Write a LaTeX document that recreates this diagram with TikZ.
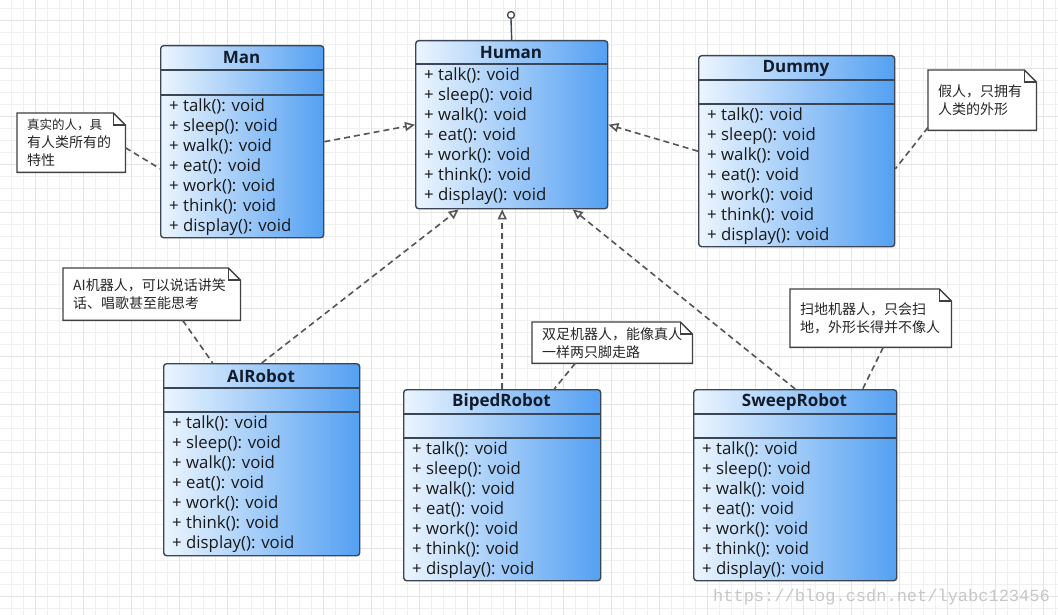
\documentclass[tikz,border=0pt]{standalone}
\usepackage{fontspec}
\setmainfont{Open Sans}
\newfontfamily\cjk{Noto Sans CJK SC}
\newfontfamily\wmfont{Liberation Mono}
\usetikzlibrary{arrows.meta}
\definecolor{boxedge}{RGB}{58,70,86}
\definecolor{boxleft}{RGB}{236,245,254}
\definecolor{boxright}{RGB}{84,160,242}
\definecolor{linegray}{RGB}{85,85,85}
\definecolor{titletext}{RGB}{18,28,44}
\tikzset{
 classbox/.style={draw=boxedge, line width=1.4bp, rounded corners=3bp, left color=boxleft, right color=boxright, inner sep=0pt, anchor=north west},
 sepline/.style={draw=boxedge, line width=1.4bp},
 classtitle/.style={font=\fontsize{17bp}{19bp}\selectfont\bfseries, text=titletext, inner sep=0pt},
 methodtext/.style={font=\fontsize{16.8bp}{20.1bp}\selectfont, align=left, inner sep=0pt, anchor=north west, text=black!90},
 notebox/.style={fill=white, draw=none, inner sep=0pt, anchor=north west},
 noteline/.style={draw=black!75, line width=1.3bp, line join=miter},
 notetext/.style={font=\cjk\fontsize{14bp}{18bp}\selectfont, align=left, inner sep=0pt, anchor=west, text=black!85},
 realize/.style={draw=linegray, line width=1.6bp, dash pattern=on 6bp off 4bp, -{Triangle[open, length=10bp, width=9bp, fill=white]}},
 noteconn/.style={draw=linegray, line width=1.6bp, dash pattern=on 6bp off 4bp},
 minorgrid/.style={draw=black!6, line width=0.6bp},
 majorgrid/.style={draw=black!11, line width=0.8bp},
}
\newcommand\umlops{\strut+ talk(): void\\\strut+ sleep(): void\\\strut+ walk(): void\\\strut+ eat(): void\\\strut+ work(): void\\\strut+ think(): void\\\strut+ display(): void}
% name, x, y, w, h, title, title height, methods offset
\newcommand\umlclass[8]{%
 \node[classbox, minimum width=#4bp, minimum height=#5bp] (#1) at (#2,#3) {};
 \draw[sepline] (#2,#3+#7) -- (#2+#4,#3+#7);
 \ifnum#8>#7 \draw[sepline] (#2,#3+#8) -- (#2+#4,#3+#8);\fi
 \node[classtitle] (#1-title) at (#2+#4/2,#3+#7/2+0.5) {#6};
 \node[methodtext] (#1-ops) at (#2+9,#3+#8+2) {\umlops};
}
% name, x, y, w, h, text
\newcommand\umlnote[6]{%
 \node[notebox, minimum width=#4bp, minimum height=#5bp] (#1) at (#2,#3) {};
 \draw[noteline] (#1.north west) -- ([xshift=-12bp]#1.north east) -- ([yshift=-12bp]#1.north east) -- (#1.south east) -- (#1.south west) -- cycle;
 \draw[noteline] ([xshift=-12bp]#1.north east) |- ([yshift=-12bp]#1.north east);
 \node[notetext] (#1-text) at ([xshift=10bp]#1.west) {#6};
}
\begin{document}
\begin{tikzpicture}[x=1bp,y=-1bp]
\useasboundingbox (0,0) rectangle (1058,615);
\fill[white] (0,0) rectangle (1058,615);
\foreach \gx in {11,23,...,1055} \draw[minorgrid] (\gx,0) -- (\gx,615);
\foreach \gy in {8,20,...,608} \draw[minorgrid] (0,\gy) -- (1058,\gy);
\foreach \gx in {35,83,...,1043} \draw[majorgrid] (\gx,0) -- (\gx,615);
\foreach \gy in {20,68,...,596} \draw[majorgrid] (0,\gy) -- (1058,\gy);

\umlclass{Human}{415}{40}{192}{168}{Human}{24}{24}
\umlclass{Man}{160}{45}{163}{192}{Man}{25}{50}
\umlclass{Dummy}{698}{55}{196}{191}{Dummy}{25}{49}
\umlclass{AIRobot}{163}{363}{196}{192}{AIRobot}{25}{49}
\umlclass{BipedRobot}{403}{389}{197}{191}{BipedRobot}{25}{49}
\umlclass{SweepRobot}{693}{389}{203}{191}{SweepRobot}{25}{49}

\node[circle, draw=boxedge, line width=1.3bp, fill=white, minimum size=7bp, inner sep=0pt] (lolli) at (511,15) {};
\draw[sepline] (Human.north) -- (lolli.south);

\umlnote{ManNote}{17}{113}{108}{59}{\fontsize{12.5bp}{17.5bp}\selectfont 真实的人，具\\有人类所有的\\特性}
\umlnote{DummyNote}{928}{70}{108}{60}{假人，只拥有\\人类的外形}
\umlnote{AINote}{63}{268}{177}{52}{AI机器人，可以说话讲笑\\话、唱歌甚至能思考}
\umlnote{BipedNote}{532}{322}{160}{41}{双足机器人，能像真人\\一样两只脚走路}
\umlnote{SweepNote}{790}{289}{161}{58}{扫地机器人，只会扫\\地，外形长得并不像人}

\draw[realize] (Man.east) -- (Human.west);
\draw[realize] (Dummy.west) -- (Human.east);
\draw[realize] (AIRobot.north) -- ([xshift=-53bp]Human.south);
\draw[realize] (BipedRobot.north) -- (BipedRobot.north |- Human.south);
\draw[realize] (SweepRobot.north) -- ([xshift=61bp]Human.south);

\draw[noteconn] ([yshift=-5bp]ManNote.east) -- ([yshift=-27bp]Man.west);
\draw[noteconn] ([yshift=3bp]DummyNote.south west) -- ([yshift=-17.5bp]Dummy.east);
\draw[noteconn] ([xshift=31bp]AINote.south) -- ([xshift=-49bp]AIRobot.north);
\draw[noteconn] ([xshift=-37bp]BipedNote.south) -- ([xshift=52bp]BipedRobot.north);
\draw[noteconn] ([xshift=12.5bp]SweepNote.south) -- ([xshift=67.5bp]SweepRobot.north);

\node[font=\wmfont\fontsize{17bp}{17bp}\selectfont, text=black!22, anchor=east, inner sep=0pt] (wm) at (1050,597) {https://blog.csdn.net/lyabc123456};
\end{tikzpicture}
\end{document}
